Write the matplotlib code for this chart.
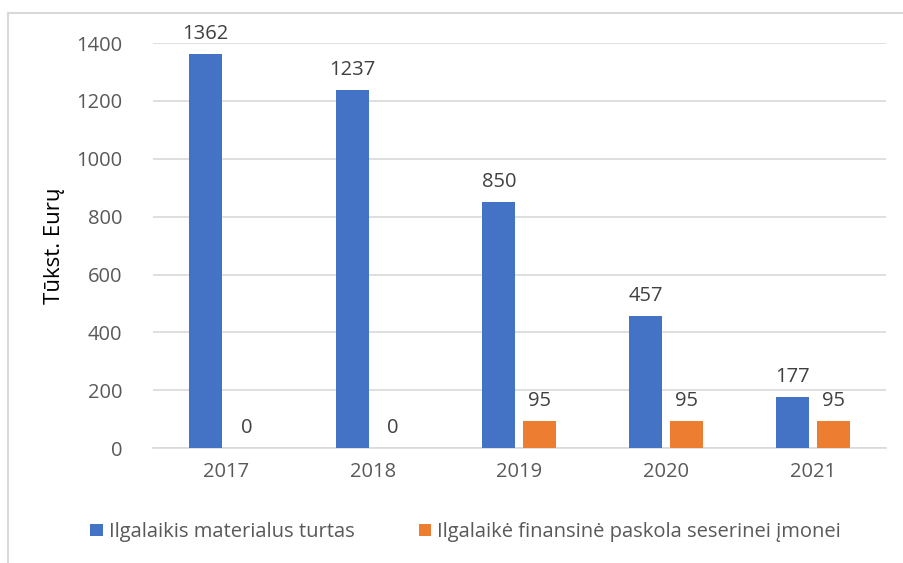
import numpy as np
import matplotlib.pyplot as plt
from matplotlib.lines import Line2D

years = ["2017", "2018", "2019", "2020", "2021"]
materialus = [1362, 1237, 850, 457, 177]
paskola = [0, 0, 95, 95, 95]
series_names = ["Ilgalaikis materialus turtas",
                "Ilgalaikė finansinė paskola seserinei įmonei"]

blue = "#4472c4"
orange = "#ed7d31"
grid_col = "#d9d9d9"
txt_col = "#595959"

plt.rcParams['font.family'] = ['Open Sans', 'DejaVu Sans']

fig = plt.figure(figsize=(9.04, 5.63), dpi=100)
ax = fig.add_axes([0.169, 0.204, 0.811, 0.7196])

x = np.arange(len(years))
w = 0.225
off = 0.14
b1 = ax.bar(x - off, materialus, w, color=blue, label=series_names[0], zorder=3)
b2 = ax.bar(x + off, paskola, w, color=orange, label=series_names[1], zorder=3)

for bars, vals in ((b1, materialus), (b2, paskola)):
    for r, v in zip(bars, vals):
        ax.annotate(str(v), (r.get_x() + r.get_width() / 2, v),
                    xytext=(0, 7), textcoords="offset points",
                    ha="center", va="bottom", fontsize=14.5, color="#404040")

ax.set_xlim(-0.5, len(years) - 0.5)
ax.set_ylim(0, 1400)
ax.set_yticks(range(0, 1401, 200))
ax.set_xticks(x)
ax.set_xticklabels(years)
ax.tick_params(axis="both", length=0, labelsize=14.5, labelcolor=txt_col)
ax.tick_params(axis="y", pad=22)
ax.tick_params(axis="x", pad=10)
ax.yaxis.grid(True, color=grid_col, lw=1.2, zorder=0)
for s in ["top", "right", "left"]:
    ax.spines[s].set_visible(False)
ax.spines["bottom"].set_color(grid_col)
ax.spines["bottom"].set_linewidth(1.2)

ax.set_ylabel("Tūkst. Eurų", fontsize=16, color="black", labelpad=8)

fig.legend(handles=[b1, b2], loc="center", bbox_to_anchor=(0.515, 0.055),
           ncol=2, frameon=False, fontsize=14.5, labelcolor=txt_col,
           handlelength=0.6, handleheight=0.6, handletextpad=0.3,
           columnspacing=3.2)

# chart frame (only top and left edges are visible in the crop)
fig.add_artist(Line2D([0.009, 0.009], [0.0, 0.977], color=grid_col, lw=1.5,
                      transform=fig.transFigure))
fig.add_artist(Line2D([0.009, 1.0], [0.977, 0.977], color=grid_col, lw=1.5,
                      transform=fig.transFigure))

fig.savefig("out.png", dpi=100, facecolor="white")
